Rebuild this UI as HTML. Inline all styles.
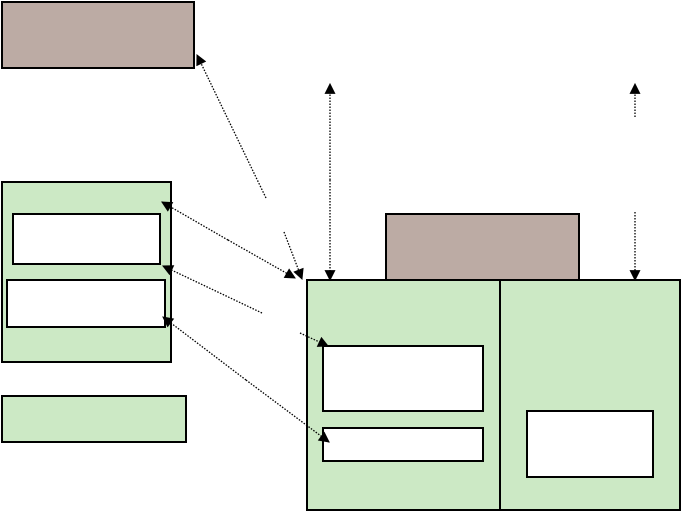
<!DOCTYPE html>
<html><head><style>html,body{margin:0;padding:0;background:#fff}svg{display:block}</style></head>
<body>
<svg width="682" height="512" viewBox="0 0 682 512" xmlns="http://www.w3.org/2000/svg">
<defs>
<marker id="a" viewBox="0 0 10 10" refX="9" refY="5" markerWidth="12" markerHeight="11" markerUnits="userSpaceOnUse" orient="auto"><path d="M0,0L10,5L0,10z" fill="#000"/></marker>
</defs>
<g stroke="#000" stroke-width="2">
<rect x="2" y="2" width="192" height="66" fill="#bcaba4"/>
<rect x="2" y="182" width="169" height="180" fill="#cce9c5"/>
<rect x="13" y="214" width="147" height="50" fill="#fff"/>
<rect x="7" y="280" width="158" height="47" fill="#fff"/>
<rect x="2" y="396" width="184" height="46" fill="#cce9c5"/>
<rect x="386" y="214" width="193" height="66" fill="#bcaba4"/>
<rect x="307" y="280" width="373" height="230" fill="#cce9c5"/>
<line x1="500" y1="280" x2="500" y2="510"/>
<rect x="323" y="346" width="160" height="65" fill="#fff"/>
<rect x="323" y="428" width="160" height="33" fill="#fff"/>
<rect x="527" y="411" width="126" height="66" fill="#fff"/>
</g>
<g stroke="#000" stroke-width="1.3" stroke-dasharray="1.5,1.5" fill="none">
<line x1="266" y1="198" x2="197" y2="55" marker-end="url(#a)"/>
<line x1="284" y1="232" x2="302" y2="279" marker-end="url(#a)"/>
<line x1="330" y1="180" x2="330" y2="84" marker-end="url(#a)"/>
<line x1="330" y1="180" x2="330" y2="280" marker-end="url(#a)"/>
<line x1="635" y1="117" x2="635" y2="84" marker-end="url(#a)"/>
<line x1="635" y1="212" x2="635" y2="280" marker-end="url(#a)"/>
<line x1="228" y1="240" x2="162" y2="202" marker-end="url(#a)"/>
<line x1="228" y1="240" x2="295" y2="278" marker-end="url(#a)"/>
<line x1="262" y1="313" x2="163" y2="266" marker-end="url(#a)"/>
<line x1="300" y1="333" x2="328" y2="346" marker-end="url(#a)"/>
<line x1="246" y1="380" x2="163" y2="317" marker-end="url(#a)"/>
<line x1="246" y1="380" x2="329" y2="442" marker-end="url(#a)"/>
</g>
</svg>
</body></html>
